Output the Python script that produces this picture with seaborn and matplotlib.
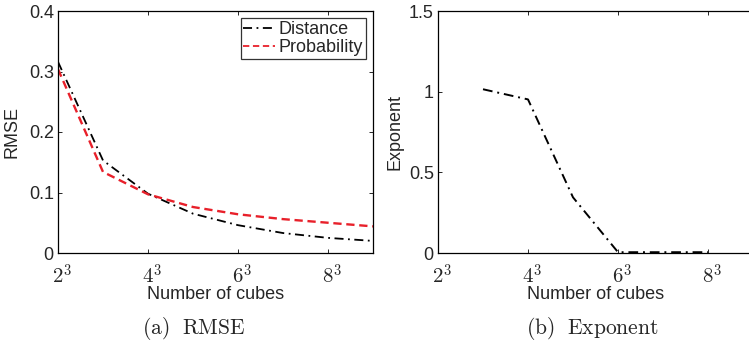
import pandas as pd
import seaborn as sns
import matplotlib.pyplot as plt

# number of cubes per side (x axis is n, labelled n^3)
n_rmse = [2, 3, 4, 5, 6, 7, 8, 9]
rmse_distance = [0.316, 0.153, 0.098, 0.065, 0.046, 0.033, 0.025, 0.020]
rmse_probability = [0.304, 0.134, 0.097, 0.076, 0.064, 0.056, 0.050, 0.044]

n_exp = [3, 4, 5, 6, 7, 8]
exponent = [1.015, 0.952, 0.345, 0.005, 0.005, 0.005]

xticks = [2, 4, 6, 8]
# leading spaces nudge the labels right, like the MATLAB export
xticklabels = [r"$\:\:2^3$", r"$\:\:4^3$", r"$\:\:6^3$", r"$\:\:8^3$"]

sns.set_style("ticks")
plt.rcParams["font.family"] = ["Liberation Sans", "DejaVu Sans"]
plt.rcParams["mathtext.fontset"] = "cm"
plt.rcParams["xtick.direction"] = "in"
plt.rcParams["ytick.direction"] = "in"
plt.rcParams["xtick.top"] = True
plt.rcParams["ytick.right"] = True

df_rmse = pd.DataFrame({
    "n": n_rmse * 2,
    "rmse": rmse_distance + rmse_probability,
    "method": ["Distance"] * len(n_rmse) + ["Probability"] * len(n_rmse),
})
df_exp = pd.DataFrame({"n": n_exp, "exponent": exponent})

fig = plt.figure(figsize=(7.49, 3.44), dpi=100)
ax1 = fig.add_axes([58 / 749, 91 / 344, 315 / 749, 242 / 344])
ax2 = fig.add_axes([438 / 749, 91 / 344, 315 / 749, 242 / 344])

sns.lineplot(data=df_rmse, x="n", y="rmse", hue="method", style="method",
             palette={"Distance": "black", "Probability": "#e8202a"},
             dashes={"Distance": (5, 2.5, 1, 2.5), "Probability": (3.5, 2)},
             linewidth=1.3, ax=ax1)
ax1.lines[1].set_linewidth(1.7)
sns.lineplot(data=df_exp, x="n", y="exponent", color="black",
             dashes=False, linewidth=1.4, ax=ax2)
ax2.lines[0].set_dashes((5, 2.5, 1, 2.5))

for ax in (ax1, ax2):
    ax.set_xlim(2, 9)
    ax.set_xticks(xticks)
    ax.set_xticklabels(xticklabels, fontsize=15)
    ax.tick_params(axis="x", pad=8, length=3, width=0.7)
    ax.tick_params(axis="y", labelsize=13, length=3, width=0.7, pad=3)
    for s in ax.spines.values():
        s.set_linewidth(0.9)
        s.set_color("black")
    ax.set_xlabel("Number of cubes", fontsize=13, labelpad=-2)

ax1.set_ylim(0, 0.4)
ax1.set_yticks([0, 0.1, 0.2, 0.3, 0.4])
ax1.set_yticklabels(["0", "0.1", "0.2", "0.3", "0.4"])
ax1.set_ylabel("RMSE", fontsize=13, labelpad=6)

ax2.set_ylim(0, 1.5)
ax2.set_yticks([0, 0.5, 1, 1.5])
ax2.set_yticklabels(["0", "0.5", "1", "1.5"])
ax2.set_ylabel("Exponent", fontsize=13, labelpad=4)

leg = ax1.legend(loc="upper right", fontsize=13, frameon=True, fancybox=False,
                 borderpad=0.15, handlelength=1.75, handletextpad=0.2,
                 labelspacing=0.05, borderaxespad=0.4)
leg.get_frame().set_edgecolor("black")
leg.get_frame().set_linewidth(0.9)

fig.text(194 / 749, 1 - 328 / 344, r"$\mathrm{(a)\ \ RMSE}$", fontsize=15.5,
         ha="center", va="center")
fig.text(592 / 749, 1 - 328 / 344, r"$\mathrm{(b)\ \ Exponent}$", fontsize=15.5,
         ha="center", va="center")

fig.savefig("out.png", dpi=100)
